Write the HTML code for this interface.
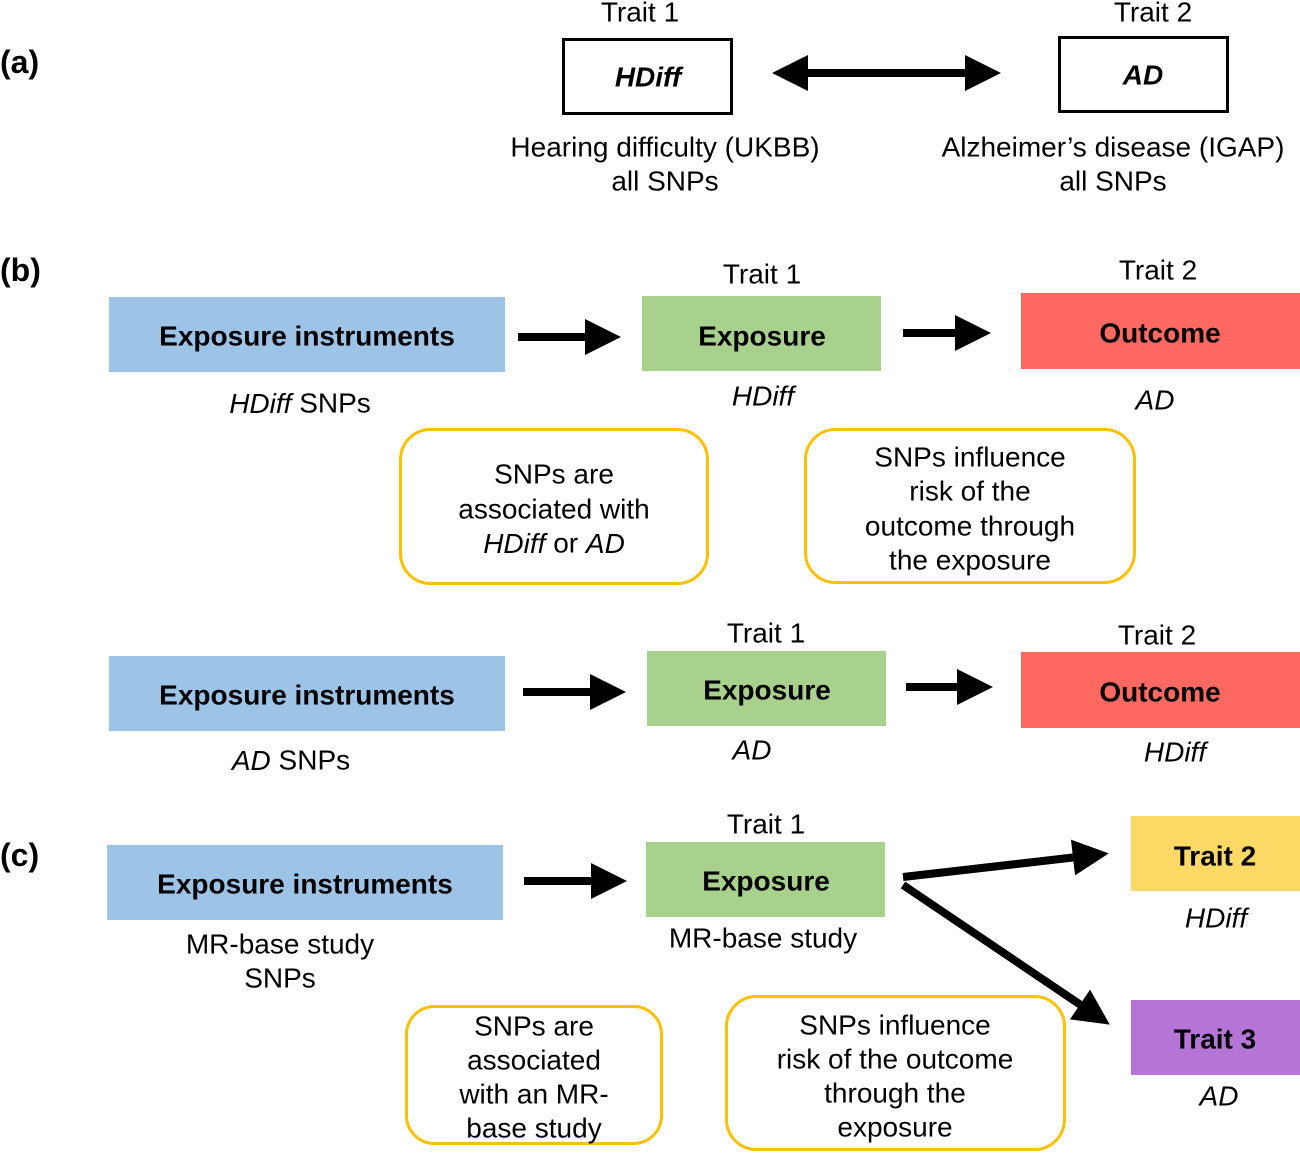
<!DOCTYPE html>
<html><head><meta charset="utf-8"><style>
html,body{margin:0;padding:0;background:#fff}
svg{display:block}
text{font-family:"Liberation Sans",Arial,sans-serif;font-size:28px;fill:#000;dominant-baseline:central;text-anchor:middle}
.b{font-weight:bold}
.i{font-style:italic}
.l{text-anchor:start;font-weight:bold;font-size:32px}
</style></head><body>
<svg width="1300" height="1153" viewBox="0 0 1300 1153" xmlns="http://www.w3.org/2000/svg">
<defs>
<marker id="ah" viewBox="0 0 10 10" refX="0" refY="5" markerWidth="5" markerHeight="4.5" orient="auto-start-reverse"><path d="M0,0 L10,5 L0,10 z" fill="#000"/></marker>
</defs>
<g stroke="#000" stroke-width="8" fill="none" marker-end="url(#ah)">
<line x1="808" y1="73" x2="965" y2="73" marker-start="url(#ah)"/>
<line x1="518" y1="337" x2="585" y2="337"/>
<line x1="903" y1="333" x2="955" y2="333"/>
<line x1="523" y1="692" x2="590" y2="692"/>
<line x1="906" y1="687" x2="957" y2="687"/>
<line x1="524" y1="881" x2="591" y2="881"/>
<line x1="903" y1="877" x2="1073" y2="857.5"/>
<line x1="903" y1="885" x2="1080" y2="1004.5"/>
</g>
<text class="l" x="0" y="62">(a)</text>
<text x="640" y="12">Trait 1</text>
<rect x="563.5" y="39.5" width="168" height="74" fill="#fff" stroke="#000" stroke-width="3"/>
<text class="b i" x="648" y="77">HDiff</text>
<text x="1153" y="12">Trait 2</text>
<rect x="1059.5" y="37.5" width="168" height="74" fill="#fff" stroke="#000" stroke-width="3"/>
<text class="b i" x="1143" y="75">AD</text>
<text x="665" y="147">Hearing difficulty (UKBB)</text>
<text x="665" y="181">all SNPs</text>
<text x="1113" y="147">Alzheimer’s disease (IGAP)</text>
<text x="1113" y="181">all SNPs</text>
<text class="l" x="0" y="270">(b)</text>
<rect x="109" y="297" width="396" height="75" fill="#9DC3E6"/>
<text class="b" x="307" y="336">Exposure instruments</text>
<text x="762" y="274">Trait 1</text>
<rect x="642" y="296" width="239" height="75" fill="#A9D18E"/>
<text class="b" x="762" y="336">Exposure</text>
<text x="1158" y="270">Trait 2</text>
<rect x="1021" y="293" width="279" height="76" fill="#FF6961"/>
<text class="b" x="1160" y="333">Outcome</text>
<text x="300" y="403"><tspan class="i">HDiff</tspan> SNPs</text>
<text class="i" x="763" y="396">HDiff</text>
<text class="i" x="1155" y="400">AD</text>
<rect x="400.5" y="429.5" width="307" height="154" rx="30" fill="none" stroke="#FFC000" stroke-width="3"/>
<text x="554" y="474">SNPs are</text>
<text x="554" y="509">associated with</text>
<text x="554" y="543"><tspan class="i">HDiff</tspan> or <tspan class="i">AD</tspan></text>
<rect x="805.5" y="429.5" width="329" height="153" rx="30" fill="none" stroke="#FFC000" stroke-width="3"/>
<text x="970" y="457">SNPs influence</text>
<text x="970" y="491">risk of the</text>
<text x="970" y="526">outcome through</text>
<text x="970" y="560">the exposure</text>
<rect x="109" y="656" width="396" height="75" fill="#9DC3E6"/>
<text class="b" x="307" y="695">Exposure instruments</text>
<text x="766" y="633">Trait 1</text>
<rect x="647" y="651" width="239" height="75" fill="#A9D18E"/>
<text class="b" x="767" y="690">Exposure</text>
<text x="1157" y="635">Trait 2</text>
<rect x="1021" y="652" width="279" height="76" fill="#FF6961"/>
<text class="b" x="1160" y="692">Outcome</text>
<text x="291" y="760"><tspan class="i">AD</tspan> SNPs</text>
<text class="i" x="752" y="750">AD</text>
<text class="i" x="1175" y="752">HDiff</text>
<text class="l" x="0" y="855">(c)</text>
<rect x="107" y="845" width="396" height="75" fill="#9DC3E6"/>
<text class="b" x="305" y="884">Exposure instruments</text>
<text x="766" y="824">Trait 1</text>
<rect x="646" y="842" width="239" height="75" fill="#A9D18E"/>
<text class="b" x="766" y="881">Exposure</text>
<rect x="1131" y="816" width="169" height="75" fill="#FFD966"/>
<text class="b" x="1215" y="856">Trait 2</text>
<text class="i" x="1216" y="918">HDiff</text>
<rect x="1131" y="1000" width="169" height="75" fill="#B575D6"/>
<text class="b" x="1215" y="1039">Trait 3</text>
<text class="i" x="1219" y="1096">AD</text>
<text x="280" y="944">MR-base study</text>
<text x="280" y="978">SNPs</text>
<text x="763" y="938">MR-base study</text>
<rect x="406.5" y="1006.5" width="255" height="137" rx="28" fill="none" stroke="#FFC000" stroke-width="3"/>
<text x="534" y="1026">SNPs are</text>
<text x="534" y="1060">associated</text>
<text x="534" y="1094">with an MR-</text>
<text x="534" y="1128">base study</text>
<rect x="726.5" y="996.5" width="338" height="153" rx="30" fill="none" stroke="#FFC000" stroke-width="3"/>
<text x="895" y="1025">SNPs influence</text>
<text x="895" y="1059">risk of the outcome</text>
<text x="895" y="1093">through the</text>
<text x="895" y="1127">exposure</text>
</svg>
</body></html>
